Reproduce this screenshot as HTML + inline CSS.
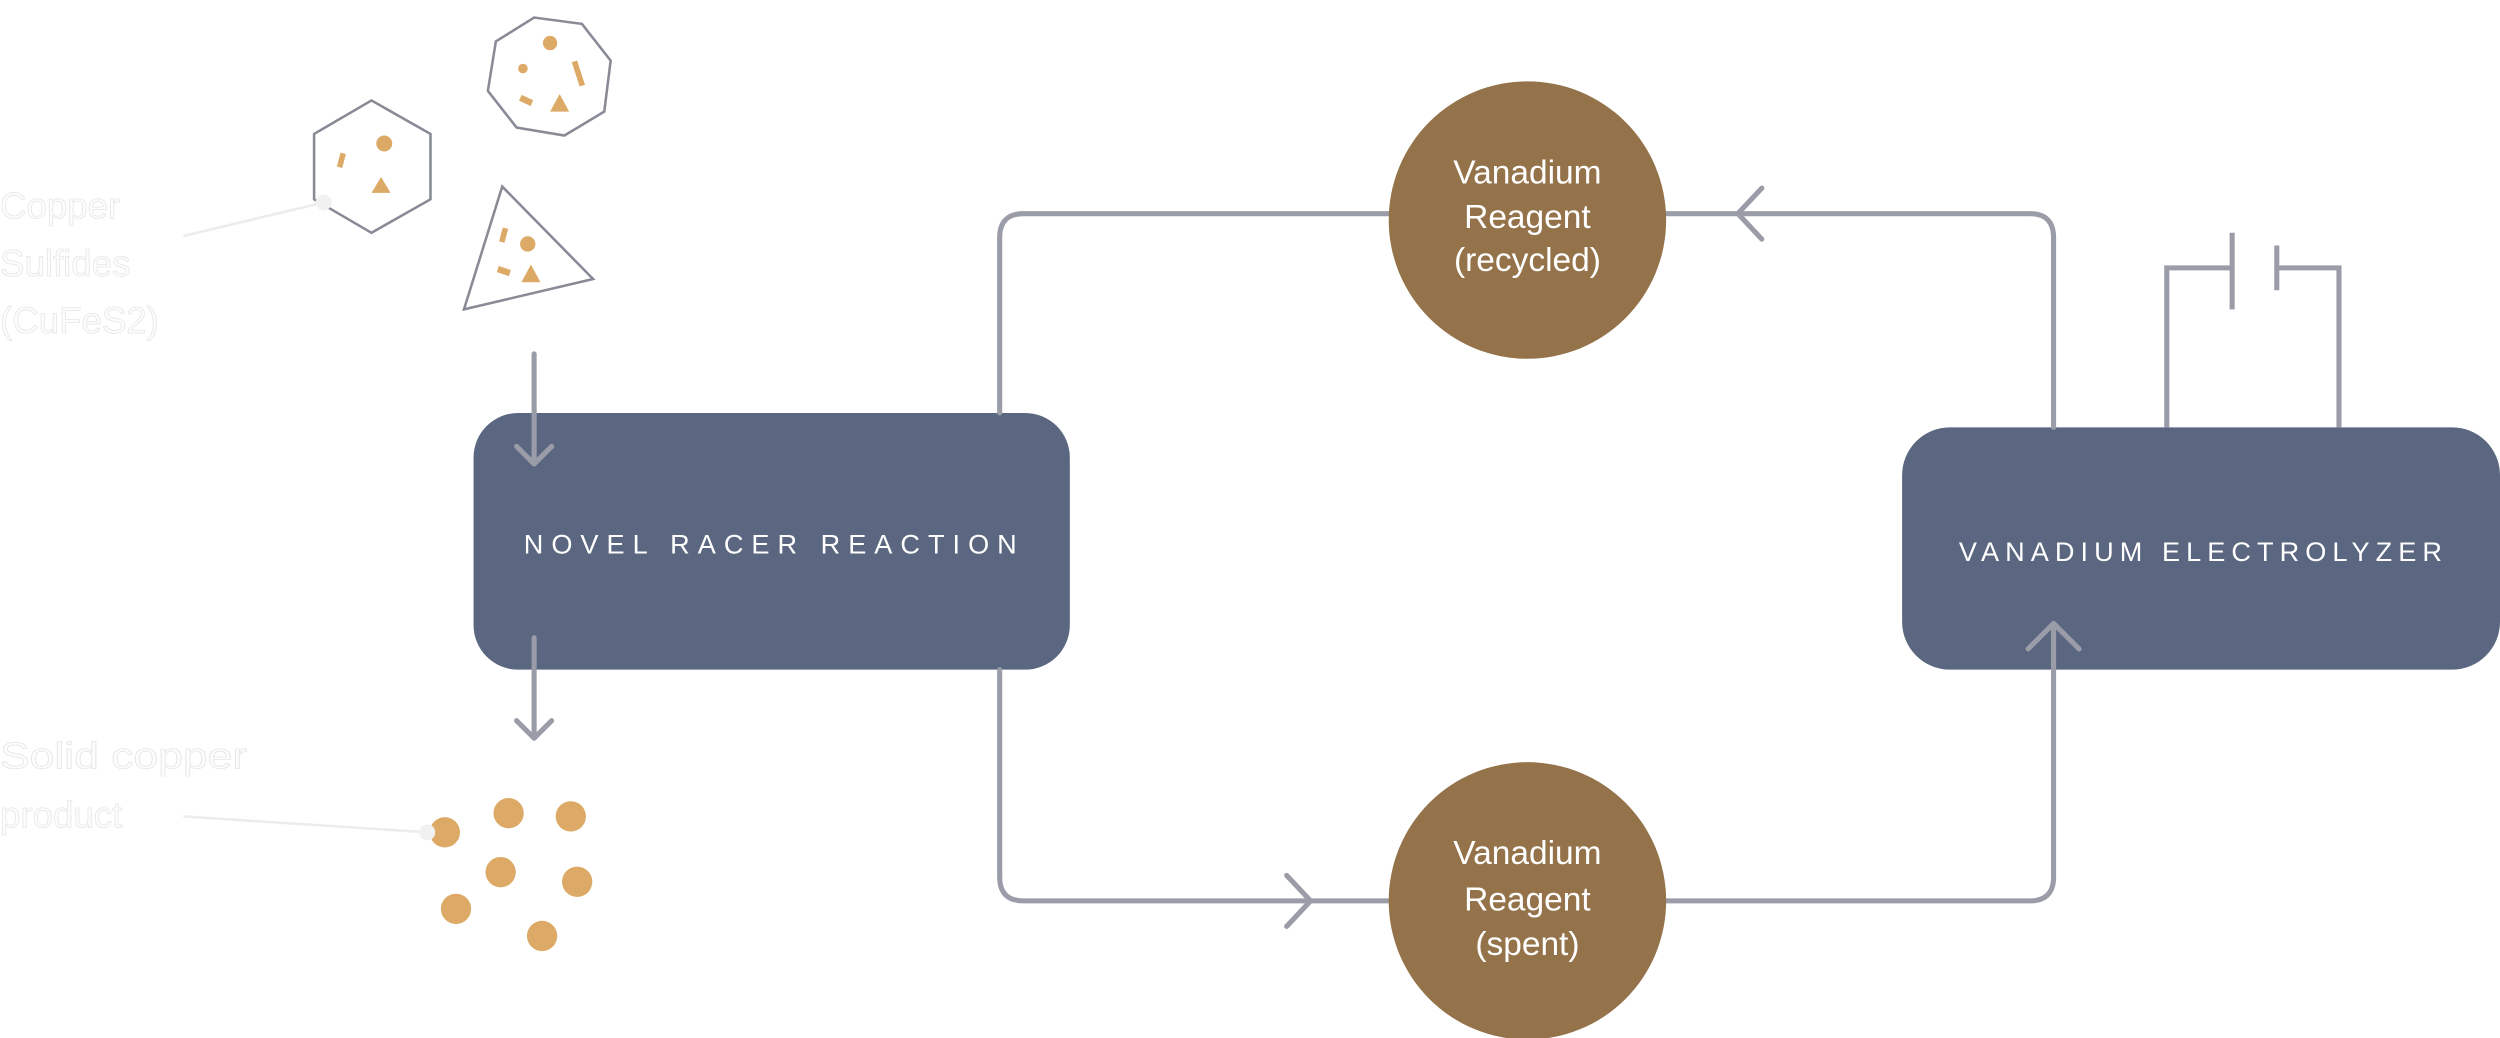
<!DOCTYPE html>
<html><head><meta charset="utf-8"><style>
html,body{margin:0;padding:0;background:#fff;}
svg{display:block;}
</style></head><body>
<svg width="2500" height="1038" viewBox="0 0 1568 651" preserveAspectRatio="none" xmlns="http://www.w3.org/2000/svg">
<rect width="1568" height="651" fill="#fff"/>
<rect x="297" y="259" width="374" height="161" rx="28" fill="#5b6780"/>
<rect x="1193" y="268" width="375" height="152" rx="30" fill="#5b6780"/>
<g fill="none" stroke="#9a9ca8" stroke-width="3.2" stroke-linecap="round" stroke-linejoin="round">
<path d="M627 259 V149 Q627 134 642 134 H871"/>
<path d="M1045 134 H1273 Q1288 134 1288 149 V268"/>
<path d="M1105 118 L1090 134 L1105 150"/>
<path d="M627 420 V550 Q627 565 642 565 H871"/>
<path d="M807 549 L822 565 L807 581"/>
<path d="M1045 565 H1273 Q1288 565 1288 550 V392"/>
<path d="M1272 407 L1288 391 L1304 407"/>
<path d="M335 222 V291"/>
<path d="M324 280 L335 291 L346 280"/>
<path d="M335 400 V463"/>
<path d="M324 452 L335 463 L346 452"/>
</g>
<g fill="none" stroke="#9a9ca8" stroke-width="3.2">
<path d="M1359 268 V168 H1400"/>
<path d="M1400 146 V194"/>
<path d="M1428 154 V182"/>
<path d="M1428 168 H1467 V268"/>
</g>
<g font-family="Liberation Sans, sans-serif" fill="#fff" font-size="17" letter-spacing="3.8" text-anchor="middle">
<text x="485" y="347" textLength="313" lengthAdjust="spacing">NOVEL RACER REACTION</text>
<text x="1382" y="352">VANADIUM ELECTROLYZER</text>
</g>
<circle cx="958" cy="138" r="87" fill="#94734a"/>
<circle cx="958" cy="565" r="87" fill="#94734a"/>
<g font-family="Liberation Sans, sans-serif" fill="#fff" font-size="21" text-anchor="middle">
<text x="958" y="115">Vanadium</text>
<text x="958" y="143">Reagent</text>
<text x="958" y="170">(recycled)</text>
<text x="958" y="542">Vanadium</text>
<text x="958" y="571">Reagent</text>
<text x="958" y="599">(spent)</text>
</g>
<g fill="none" stroke="#888a96" stroke-width="1.6">
<polygon points="233,63 270,84 270,125 233,146 197,125 197,84"/>
<polygon points="311,26 335,11 365,15 383,38 379,70 354,85 324,80 306,57"/>
<polygon points="315,117 372,175 291,194"/>
</g>
<g fill="#dcaa66">
<circle cx="241" cy="90" r="5"/>
<rect x="212.5" y="96" width="3.5" height="9" transform="rotate(15 214 100)"/>
<polygon points="239,111 233,121 245,121"/>
<circle cx="345" cy="27" r="4.5"/>
<circle cx="328" cy="43" r="3"/>
<rect x="361" y="38" width="3.5" height="16" transform="rotate(-18 363 46)"/>
<rect x="326" y="61" width="8" height="4" transform="rotate(25 330 63)"/>
<polygon points="351,59 345,70 357,70"/>
<rect x="314" y="143" width="3.5" height="9" transform="rotate(15 316 148)"/>
<circle cx="331" cy="153" r="4.8"/>
<rect x="312" y="168" width="8" height="4" transform="rotate(18 316 170)"/>
<polygon points="333,166 327,177 339,177"/>
<circle cx="279" cy="522" r="9.5"/>
<circle cx="319" cy="510" r="9.5"/>
<circle cx="358" cy="512" r="9.5"/>
<circle cx="314" cy="547" r="9.5"/>
<circle cx="362" cy="553" r="9.5"/>
<circle cx="286" cy="570" r="9.5"/>
<circle cx="340" cy="587" r="9.5"/>
</g>
<g stroke="#ececec" stroke-width="1.6">
<line x1="115" y1="148" x2="203" y2="127"/>
<line x1="115" y1="512" x2="268" y2="522"/>
</g>
<circle cx="203" cy="127" r="5" fill="#f1f1f1"/>
<circle cx="268" cy="522" r="5" fill="#f1f1f1"/>
<g font-family="Liberation Sans, sans-serif" font-size="23" fill="#fdfdfd" stroke="#e6e6e6" stroke-width="0.5">
<text x="0" y="137">Copper</text>
<text x="0" y="173">Sulfides</text>
<text x="0" y="209">(CuFeS2)</text>
<text x="0" y="482" textLength="155" lengthAdjust="spacingAndGlyphs">Solid copper</text>
<text x="0" y="519">product</text>
</g>
</svg>
</body></html>
